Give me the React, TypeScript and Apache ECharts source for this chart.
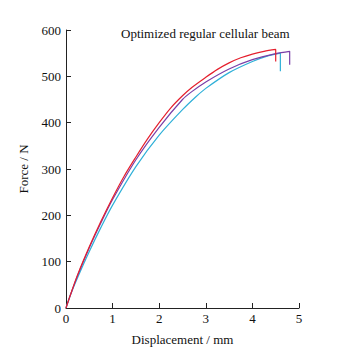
import React, { useEffect, useRef } from "react";
import * as echarts from "echarts";

const redSeries: [number, number][] = [
  [0, 0], [0.1, 30], [0.25, 72], [0.5, 132], [0.75, 187], [1, 238], [1.25, 285], [1.5, 326],
  [1.75, 365], [2, 400], [2.25, 432], [2.5, 458], [2.7, 476], [3, 498], [3.25, 515],
  [3.5, 529], [3.75, 540], [4, 548], [4.25, 554], [4.5, 558], [4.5, 532],
];
const purpleSeries: [number, number][] = [
  [0, 0], [0.1, 29], [0.25, 70], [0.5, 130], [0.75, 184], [1, 234], [1.5, 320], [2, 390],
  [2.5, 450], [2.7, 467], [3, 488], [3.5, 516], [4, 536], [4.5, 549], [4.8, 554], [4.8, 525],
];
const cyanSeries: [number, number][] = [
  [0, 0], [0.1, 30], [0.25, 66], [0.5, 122], [0.75, 174], [1, 222], [1.5, 305], [2, 373],
  [2.5, 428], [2.8, 457], [3, 474], [3.5, 508], [4, 532], [4.3, 543], [4.6, 550], [4.6, 511],
];

const xTicks = [0, 1, 2, 3, 4, 5];
const yTicks = [0, 100, 200, 300, 400, 500, 600];
const titleText = "Optimized regular cellular beam";

export default function App() {
  const ref = useRef<HTMLDivElement>(null);
  useEffect(() => {
    if (!ref.current) return;
    const chart = echarts.init(ref.current, undefined, { renderer: "svg" });
    const font = "'Liberation Serif', 'Times New Roman', serif";
    chart.setOption({
      animation: false,
      backgroundColor: "#ffffff",
      textStyle: { fontFamily: font },
      title: {
        text: titleText,
        left: 116,
        top: 22,
        textStyle: { fontFamily: font, fontSize: 13, fontWeight: "normal", color: "#111" },
      },
      grid: { left: 66, right: 60, top: 30, bottom: 43, containLabel: false },
      xAxis: {
        type: "value",
        min: xTicks[0],
        max: xTicks[xTicks.length - 1],
        interval: 1,
        name: "Displacement / mm",
        nameLocation: "middle",
        nameGap: 25,
        nameTextStyle: { fontFamily: font, fontSize: 13, color: "#111" },
        axisLine: { show: true, lineStyle: { color: "#222", width: 1 } },
        axisTick: { show: true, inside: true, length: 5, lineStyle: { color: "#222" } },
        axisLabel: { fontFamily: font, fontSize: 13, color: "#111", margin: 4 },
        splitLine: { show: false },
      },
      yAxis: {
        type: "value",
        min: yTicks[0],
        max: yTicks[yTicks.length - 1],
        interval: 100,
        name: "Force / N",
        nameLocation: "middle",
        nameGap: 36,
        nameTextStyle: { fontFamily: font, fontSize: 13, color: "#111" },
        axisLine: { show: true, lineStyle: { color: "#222", width: 1 } },
        axisTick: { show: true, inside: true, length: 5, lineStyle: { color: "#222" } },
        axisLabel: { fontFamily: font, fontSize: 13, color: "#111", margin: 5 },
        splitLine: { show: false },
      },
      series: [
        { type: "line", data: cyanSeries, showSymbol: false, smooth: 0.3, lineStyle: { color: "#2fb0d8", width: 1.2 }, z: 2 },
        { type: "line", data: purpleSeries, showSymbol: false, smooth: 0.3, lineStyle: { color: "#7a3fa8", width: 1.2 }, z: 3 },
        { type: "line", data: redSeries, showSymbol: false, smooth: 0.3, lineStyle: { color: "#e5202e", width: 1.2 }, z: 4 },
      ],
    });
    return () => chart.dispose();
  }, []);
  return <div ref={ref} style={{ width: 359, height: 351, marginLeft: -8, marginTop: -8 }} />;
}
